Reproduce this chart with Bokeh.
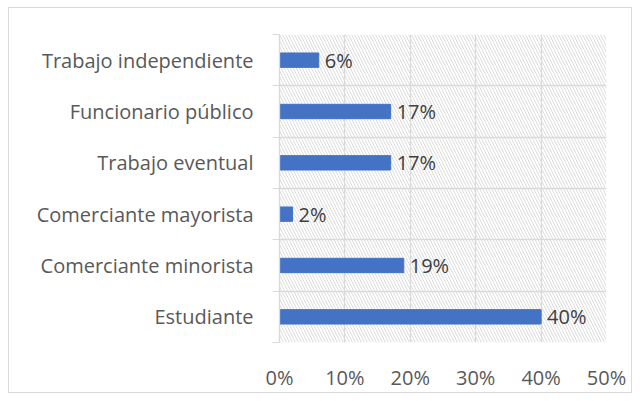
from bokeh.plotting import figure
from bokeh.models import ColumnDataSource, FixedTicker, Range1d, BoxAnnotation, LabelSet, NumeralTickFormatter
from bokeh.core.properties import value
from bokeh.embed import file_html
from bokeh.resources import INLINE

categories = ["Trabajo independiente", "Funcionario público", "Trabajo eventual",
              "Comerciante mayorista", "Comerciante minorista", "Estudiante"]
values = [6, 17, 17, 2, 19, 40]
value_labels = ["6%", "17%", "17%", "2%", "19%", "40%"]
x_ticks = [0, 10, 20, 30, 40, 50]

n = len(categories)
ypos = [n - i - 0.5 for i in range(n)]

src = ColumnDataSource(dict(y=ypos, v=values, lab=value_labels))

FONT = "Open Sans"
FS = "20px"

p = figure(width=624, height=386, output_backend="svg", toolbar_location=None,
           x_range=Range1d(0, 50), y_range=Range1d(0, n),
           min_border_left=270, min_border_right=27, min_border_top=26, min_border_bottom=52)
p.styles = {"border": "1px solid #d9d9d9", "margin-left": "8px", "margin-top": "7px"}
p.outline_line_color = None
p.background_fill_color = "white"

p.add_layout(BoxAnnotation(fill_color="white", fill_alpha=0, line_color=None,
                           hatch_pattern="\\", hatch_color="#dcdcdc", hatch_scale=6,
                           hatch_weight=1, level="underlay"))

p.hbar(y="y", right="v", left=0, height=0.28, source=src, color="#4472C4")
p.add_layout(LabelSet(x="v", y="y", text="lab", source=src, x_offset=6,
                      text_baseline="middle", text_font=value(FONT), text_font_size=FS,
                      text_color="#404040"))

# grids
p.xgrid.ticker = FixedTicker(ticks=x_ticks)
p.xgrid.grid_line_color = "#d9d9d9"
p.xgrid.grid_line_width = 1.3
p.ygrid.ticker = FixedTicker(ticks=list(range(n + 1)))
p.ygrid.grid_line_color = "#d9d9d9"
p.ygrid.grid_line_width = 1.3

# x axis
p.xaxis.ticker = FixedTicker(ticks=x_ticks)
p.xaxis.formatter = NumeralTickFormatter(format="0")
p.xaxis.major_label_overrides = {t: f"{t}%" for t in x_ticks}
p.xaxis.axis_line_color = None
p.xaxis.major_tick_line_color = None
p.xaxis.minor_tick_line_color = None
p.xaxis.major_label_standoff = 15
p.xaxis.major_label_text_font = FONT
p.xaxis.major_label_text_font_size = FS
p.xaxis.major_label_text_color = "#595959"

# y axis
p.yaxis.ticker = FixedTicker(ticks=ypos, minor_ticks=list(range(n + 1)))
p.yaxis.major_label_overrides = {y: c for y, c in zip(ypos, categories)}
p.yaxis.axis_line_color = "#d9d9d9"
p.yaxis.axis_line_width = 1.3
p.yaxis.major_tick_line_color = None
p.yaxis.minor_tick_line_color = "#d9d9d9"
p.yaxis.minor_tick_out = 7
p.yaxis.minor_tick_in = 0
p.yaxis.major_label_standoff = 19
p.yaxis.major_label_text_font = FONT
p.yaxis.major_label_text_font_size = FS
p.yaxis.major_label_text_color = "#595959"

open("out.html", "w").write(file_html(p, INLINE))
